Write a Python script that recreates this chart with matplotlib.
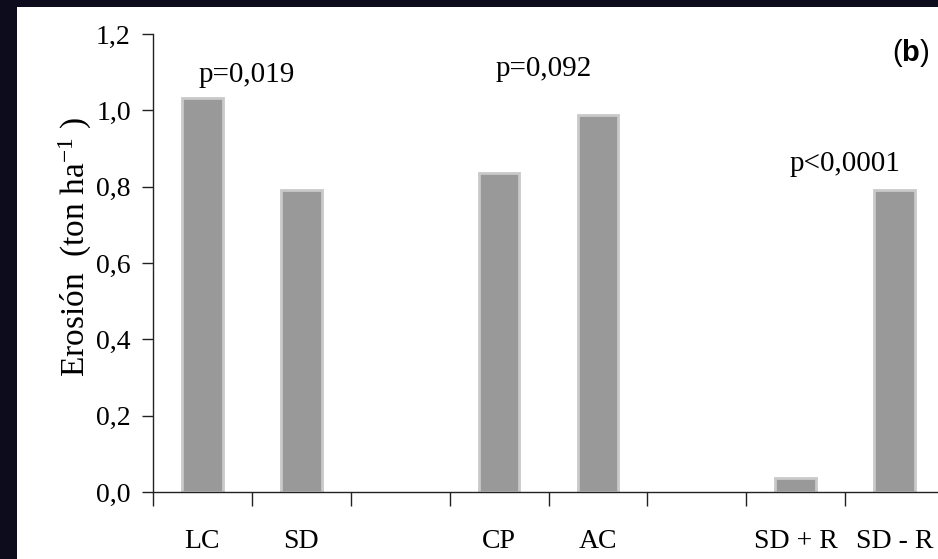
import matplotlib
matplotlib.use("Agg")
import matplotlib.pyplot as plt
from matplotlib.patches import Rectangle
import numpy as np

categories = ["LC", "SD", "", "CP", "AC", "", "SD + R", "SD - R"]
values = [1.033, 0.79, 0.0, 0.836, 0.988, 0.0, 0.037, 0.79]
has_bar = [True, True, False, True, True, False, True, True]
p_labels = ["p=0,019", "p=0,092", "p<0,0001"]
p_pos = [(0.45, 1.075), (3.45, 1.09), (6.5, 0.84)]
yticks = [0.0, 0.2, 0.4, 0.6, 0.8, 1.0, 1.2]
ytick_labels = ["0,0", "0,2", "0,4", "0,6", "0,8", "1,0", "1,2"]

plt.rcParams['font.family'] = ['Liberation Serif', 'DejaVu Serif']
plt.rcParams['mathtext.fontset'] = 'custom'
plt.rcParams['mathtext.rm'] = 'Liberation Serif'
plt.rcParams['mathtext.it'] = 'Liberation Serif:italic'
plt.rcParams['mathtext.bf'] = 'Liberation Sans:bold'

W, H = 938, 559
fig = plt.figure(figsize=(W / 100, H / 100), dpi=100)
fig.patch.set_facecolor('white')

# dark frame (left and top)
fig.add_artist(Rectangle((0, 0), 17 / W, 1, transform=fig.transFigure,
                         facecolor='#0c0c1c', edgecolor='none', zorder=0))
fig.add_artist(Rectangle((0, 1 - 7 / H), 1, 7 / H, transform=fig.transFigure,
                         facecolor='#0c0c1c', edgecolor='none', zorder=0))

left = 153 / W
bottom = (H - 492) / H
height = (492 - 34) / H
width = 791 / W
ax = fig.add_axes([left, bottom, width, height])
ax.set_facecolor('none')

x = np.arange(len(categories))
xs = [xi for xi, hb in zip(x, has_bar) if hb]
vs = [v for v, hb in zip(values, has_bar) if hb]
ax.bar(xs, vs, width=0.41, color='#999999', edgecolor='#c9c9c9', linewidth=2, zorder=2)

ax.set_xlim(-0.5, len(categories) - 0.5)
ax.set_ylim(0, 1.2)

for s in ['top', 'right']:
    ax.spines[s].set_visible(False)
for s in ['left', 'bottom']:
    ax.spines[s].set_color('#222222')
    ax.spines[s].set_linewidth(1.0)

ax.set_yticks(yticks)
ax.set_yticklabels(ytick_labels, fontsize=20)
ax.tick_params(axis='y', direction='out', length=8, width=1, pad=8, colors='#222222',
               labelcolor='black')

ax.set_xticks(x)
ax.set_xticklabels(categories, fontsize=20)
ax.tick_params(axis='x', which='major', length=0, pad=27)
ax.set_xticks(np.arange(-0.5, len(categories), 1.0), minor=True)
ax.tick_params(axis='x', which='minor', direction='out', length=10, width=1, colors='#222222')

fig.text(75 / W, 1 - 247 / H, r'Erosión  (ton ha$^{\mathregular{-1}}$ )', rotation=90,
         ha='center', va='center', fontsize=24)

for lab, (px, py) in zip(p_labels, p_pos):
    ax.text(px, py, lab, ha='center', va='baseline', fontsize=21)

fig.text(911 / W, 1 - 53 / H, r'($\mathbf{b}$)', ha='center', va='center', fontsize=21,
         family=['Liberation Sans', 'DejaVu Sans'])

fig.savefig('out.png', dpi=100)
